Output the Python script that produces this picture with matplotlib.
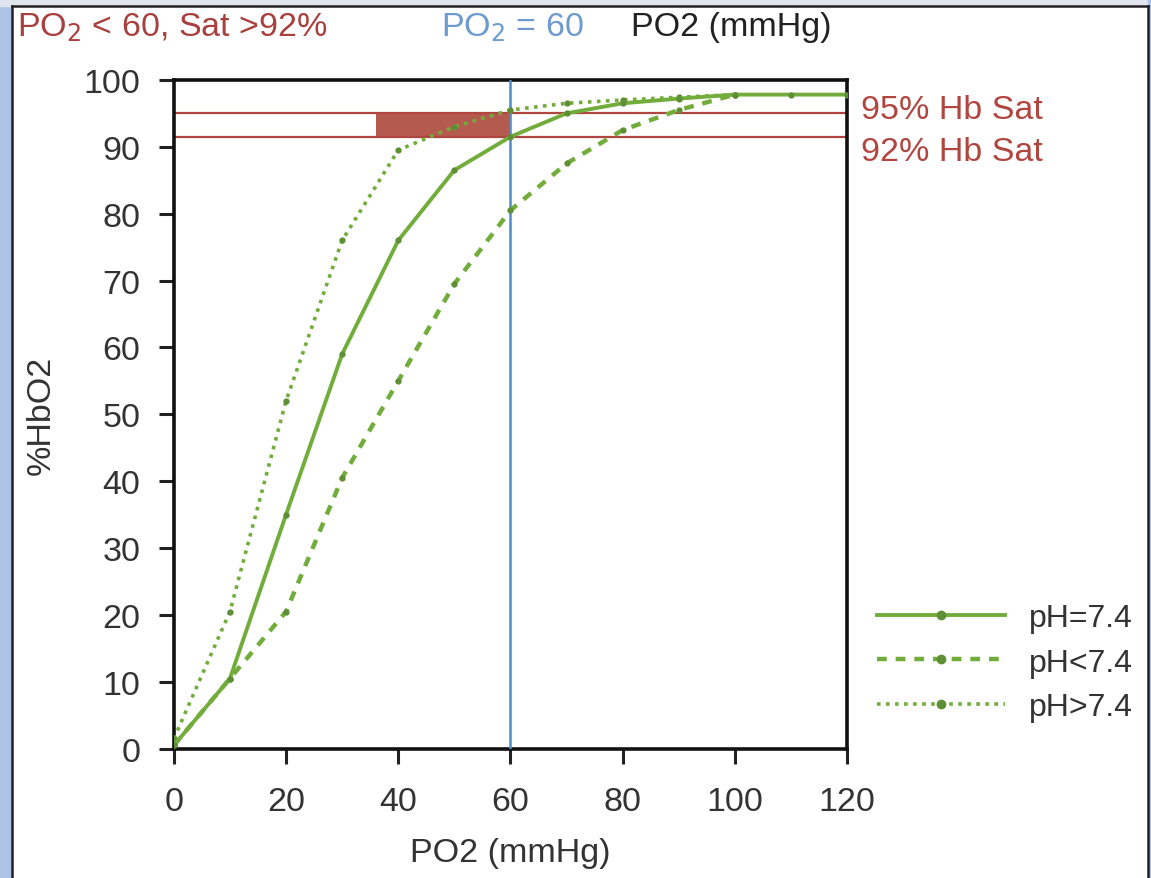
import matplotlib
matplotlib.use("Agg")
import matplotlib.pyplot as plt
from matplotlib.lines import Line2D
from matplotlib.patches import Rectangle

plt.rcParams['font.family'] = ['Liberation Sans', 'DejaVu Sans']

# oxygen dissociation curves
po2 = [0, 10, 20, 30, 40, 50, 60, 70, 80, 90, 100, 110, 120]
sat_normal = [0.5, 10.5, 35, 59, 76, 86.5, 91.5, 95, 96.5, 97.2, 97.8, 97.8, 97.8]
po2_low = [0, 10, 20, 30, 40, 50, 60, 70, 80, 90, 100]
sat_low_ph = [0.5, 10.5, 20.5, 40.5, 55, 69.5, 80.5, 87.5, 92.5, 95.5, 97.8]
po2_high = [0, 10, 20, 30, 40, 50, 60, 70, 80, 90, 100]
sat_high_ph = [1.5, 20.5, 52, 76, 89.5, 93, 95.5, 96.5, 97, 97.4, 97.8]

sat_lines = [95, 91.5]
sat_labels = ["95% Hb Sat", "92% Hb Sat"]
box_x = [36, 60]
po2_mark = 60

green = "#72ad3c"
mk = "#5f8f35"
red = "#b0463f"
blue = "#4f8ac8"
fs = 24.5

fig = plt.figure(figsize=(11.51, 8.79), dpi=100)
ax = fig.add_axes([0.151, 0.147, 0.585, 0.761])

ax.fill_between(box_x, sat_lines[1], sat_lines[0], color="#b55a4e", lw=0, zorder=1)
for s in sat_lines:
    ax.axhline(s, color=red, lw=1.6, zorder=2)
ax.axvline(po2_mark, color=blue, lw=1.8, zorder=3)

solid = dict(color=green, lw=2.8)
dashed = dict(color=green, lw=3.2, ls=(0, (2.2, 2.0)))
dotted = dict(color=green, lw=2.6, ls=(0, (1, 1.5)))

ax.plot(po2, sat_normal, marker="o", ms=3.5, mfc=mk, mec=mk, zorder=5,
        label="pH=7.4", **solid)
ax.plot(po2_low, sat_low_ph, marker="o", ms=3.5, mfc=mk, mec=mk, zorder=4,
        label="pH<7.4", **dashed)
ax.plot(po2_high, sat_high_ph, marker="o", ms=3.5, mfc=mk, mec=mk, zorder=4,
        label="pH>7.4", **dotted)

ax.set_xlim(0, 120)
ax.set_ylim(0, 100)
ax.set_xticks(range(0, 121, 20))
ax.set_yticks(range(0, 101, 10))
ax.tick_params(labelsize=fs, length=11, width=2.2, color="#222222", labelcolor="#333333")
ax.tick_params(axis="y", pad=13)
ax.tick_params(axis="x", pad=16)
for sp in ax.spines.values():
    sp.set_linewidth(2.6)
    sp.set_color("#111111")

ax.set_xlabel("PO2 (mmHg)", fontsize=fs, color="#333333", labelpad=14)
ax.set_ylabel("%HbO2", fontsize=fs, color="#333333", labelpad=19)

for s, lab in zip(sat_lines, sat_labels):
    ax.text(1.02, s / 100 + (0.005 if s > 93 else -0.022), lab, transform=ax.transAxes,
            color=red, fontsize=fs, va="center", ha="left")

# top labels
fig.text(0.015, 0.969, "PO$_2$ < 60, Sat >92%", color="#a8403f", fontsize=24.5, va="center")
fig.text(0.383, 0.969, "PO$_2$ = 60", color="#6d9bd0", fontsize=24.5, va="center")
fig.text(0.548, 0.969, "PO2 (mmHg)", color="#222222", fontsize=24.5, va="center")

# legend outside on the right
handles = [Line2D([], [], marker="o", ms=6, mfc=mk, mec=mk, **solid),
           Line2D([], [], marker="o", ms=6, mfc=mk, mec=mk, **dashed),
           Line2D([], [], marker="o", ms=6, mfc=mk, mec=mk, **dotted)]
fig.legend(handles, ["pH=7.4", "pH<7.4", "pH>7.4"], loc="center left",
           bbox_to_anchor=(0.737, 0.245), frameon=False, fontsize=23, numpoints=1,
           handlelength=4.0, handletextpad=0.75, labelspacing=0.45, labelcolor="#333333")

# slide frame around the picture
fig.patches.append(Rectangle((0, 0), 11 / 1151, 1, transform=fig.transFigure,
                             color="#aec3e6", zorder=0))
fig.patches.append(Rectangle((0, 872 / 879), 1, 7 / 879, transform=fig.transFigure,
                             color="#dfe4ee", zorder=0))
fig.patches.append(Rectangle((1148 / 1151, 0), 3 / 1151, 1, transform=fig.transFigure,
                             color="#aec3e6", zorder=0))
fig.lines.append(Line2D([11.5 / 1151, 11.5 / 1151], [0, 872 / 879], transform=fig.transFigure,
                        color="#222222", lw=1.8))
fig.lines.append(Line2D([11.5 / 1151, 1147.5 / 1151], [872 / 879, 872 / 879],
                        transform=fig.transFigure, color="#222222", lw=1.8))
fig.lines.append(Line2D([1147.5 / 1151, 1147.5 / 1151], [0, 872 / 879], transform=fig.transFigure,
                        color="#222222", lw=1.8))

fig.savefig("out.png", dpi=100)
